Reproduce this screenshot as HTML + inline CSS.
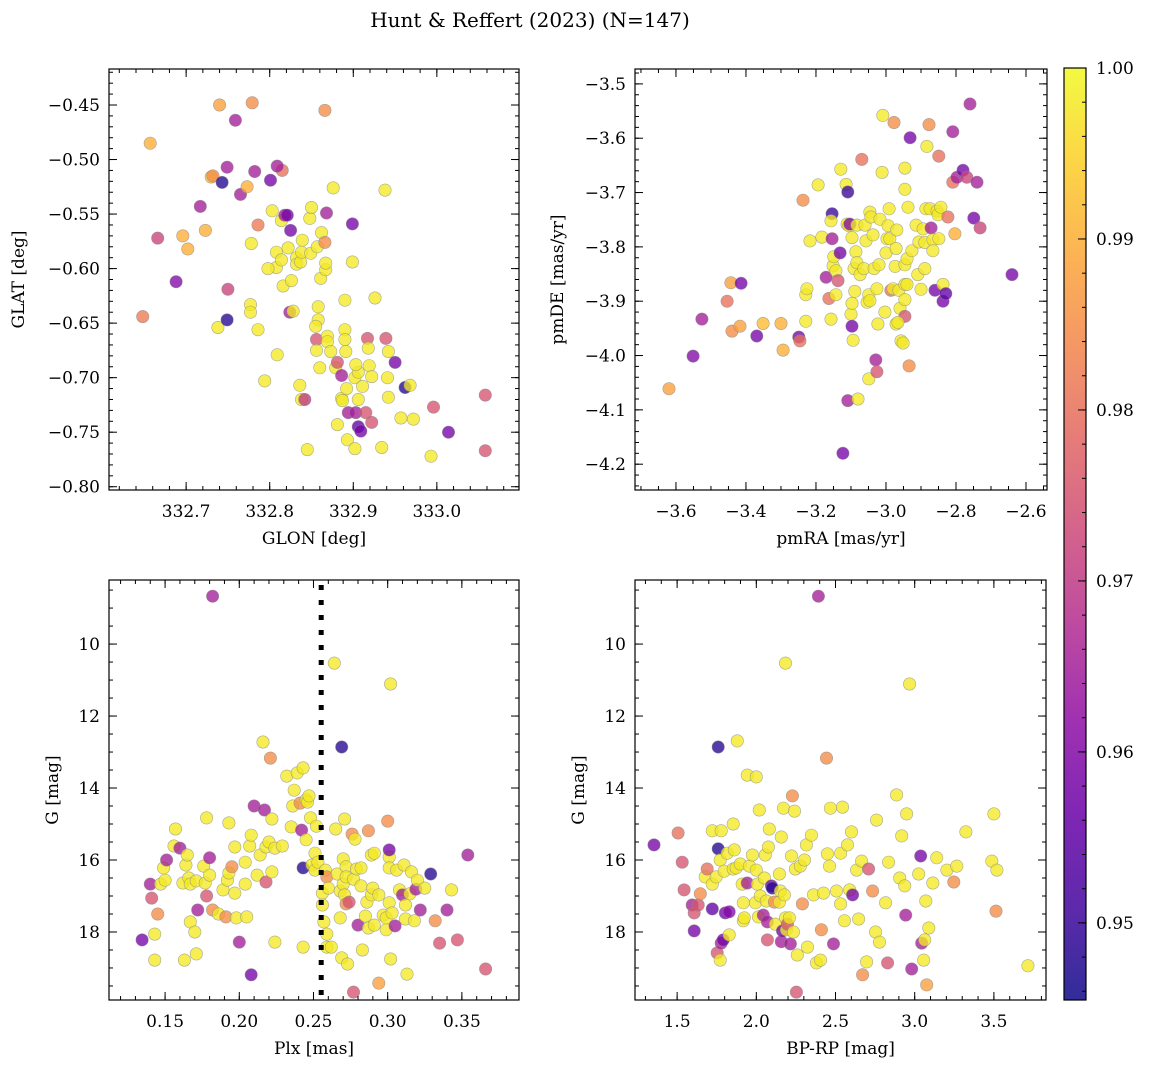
<!DOCTYPE html>
<html><head><meta charset="utf-8"><style>
html,body{margin:0;padding:0;background:#fff;}
svg{display:block;font-family:"DejaVu Serif","Liberation Serif",serif;}
</style></head><body>
<svg id="fig" width="1149" height="1068" viewBox="0 0 1149 1068" xmlns="http://www.w3.org/2000/svg">
<rect width="1149" height="1068" fill="#fff"/>
<text x="530" y="27" font-size="20" text-anchor="middle">Hunt &amp; Reffert (2023) (N=147)</text>
<defs><linearGradient id="cmap" x1="0" y1="1" x2="0" y2="0">
<stop offset="0" stop-color="#0d0887"/><stop offset="0.1" stop-color="#41049d"/><stop offset="0.2" stop-color="#6a00a8"/><stop offset="0.3" stop-color="#8f0da4"/><stop offset="0.4" stop-color="#b12a90"/><stop offset="0.5" stop-color="#cc4778"/><stop offset="0.6" stop-color="#e16462"/><stop offset="0.7" stop-color="#f2844b"/><stop offset="0.8" stop-color="#fca636"/><stop offset="0.9" stop-color="#fcce25"/><stop offset="1" stop-color="#f0f921"/>
</linearGradient></defs>
</svg>
<script>
// ---- data: panel 1 (GLON, GLAT, prob)
const p1Glon=[332.657,332.740,332.779,332.759,332.866,332.648,332.666,332.688,332.696,332.702,332.717,332.723,332.730,332.732,332.738,332.743,332.749,332.750,332.749,332.765,332.773,332.782,332.778,332.777,332.777,332.786,332.786,332.794,332.801,332.803,332.809,332.815,332.809,332.814,332.818,332.821,332.825,332.822,332.808,332.808,332.798,332.814,332.816,332.824,332.826,332.828,332.832,332.832,332.837,332.839,332.838,332.836,332.838,332.842,332.845,332.848,332.849,332.850,332.857,332.858,332.861,332.858,332.855,332.856,332.856,332.860,332.862,332.866,332.868,332.867,332.867,332.869,332.869,332.873,332.876,332.879,332.881,332.881,332.886,332.886,332.887,332.890,332.890,332.890,332.891,332.892,332.893,332.894,332.902,332.902,332.903,332.906,332.903,332.906,332.899,332.899,332.906,332.909,332.911,332.915,332.917,332.918,332.919,332.922,332.922,332.926,332.934,332.939,332.938,332.941,332.942,332.942,332.950,332.957,332.962,332.968,332.972,332.993,332.996,333.014,333.058,333.058];
const p1Glat=[-0.485,-0.450,-0.448,-0.464,-0.455,-0.644,-0.572,-0.612,-0.570,-0.582,-0.543,-0.565,-0.516,-0.515,-0.654,-0.521,-0.507,-0.619,-0.647,-0.532,-0.525,-0.511,-0.577,-0.633,-0.640,-0.560,-0.656,-0.703,-0.519,-0.547,-0.679,-0.510,-0.506,-0.556,-0.551,-0.551,-0.565,-0.581,-0.585,-0.599,-0.600,-0.592,-0.616,-0.640,-0.611,-0.639,-0.590,-0.596,-0.594,-0.574,-0.585,-0.707,-0.720,-0.720,-0.766,-0.554,-0.586,-0.544,-0.580,-0.647,-0.609,-0.635,-0.653,-0.665,-0.675,-0.691,-0.567,-0.576,-0.549,-0.601,-0.595,-0.662,-0.667,-0.676,-0.526,-0.691,-0.686,-0.743,-0.698,-0.719,-0.721,-0.629,-0.656,-0.665,-0.676,-0.710,-0.757,-0.732,-0.700,-0.765,-0.732,-0.695,-0.688,-0.720,-0.594,-0.559,-0.745,-0.749,-0.708,-0.732,-0.664,-0.673,-0.689,-0.699,-0.741,-0.627,-0.764,-0.664,-0.528,-0.700,-0.676,-0.718,-0.686,-0.737,-0.709,-0.707,-0.738,-0.772,-0.727,-0.750,-0.716,-0.767];
const p1Prob=[.99,.988,.985,.965,.985,.982,.972,.96,.99,.99,.965,.99,.993,.985,.998,.948,.965,.972,.948,.965,.99,.965,.998,.998,.998,.982,.998,.998,.958,.998,.998,.98,.965,.998,.965,.958,.958,.998,.998,.998,.998,.998,.998,.965,.998,.998,.998,.998,.998,.998,.998,.998,.998,.97,.998,.998,.998,.998,.998,.998,.998,.998,.998,.975,.998,.998,.998,.985,.965,.998,.998,.998,.998,.998,.998,.998,.975,.998,.965,.998,.998,.998,.998,.998,.998,.998,.998,.965,.998,.998,.965,.998,.998,.998,.998,.958,.955,.958,.998,.975,.975,.998,.998,.998,.975,.998,.998,.975,.998,.998,.998,.998,.958,.998,.948,.998,.998,.998,.975,.958,.975,.975];
// ---- data: panel 2 (pmRA, pmDE, prob)
const p2Pmra=[-3.620,-3.551,-3.526,-3.454,-3.440,-3.443,-3.417,-3.414,-3.369,-3.351,-3.300,-3.294,-3.249,-3.246,-3.237,-3.229,-3.229,-3.226,-3.217,-3.194,-3.183,-3.171,-3.163,-3.154,-3.157,-3.154,-3.151,-3.149,-3.143,-3.157,-3.143,-3.137,-3.131,-3.129,-3.123,-3.114,-3.111,-3.109,-3.106,-3.103,-3.097,-3.091,-3.089,-3.100,-3.097,-3.097,-3.094,-3.086,-3.083,-3.083,-3.074,-3.069,-3.063,-3.060,-3.057,-3.054,-3.049,-3.046,-3.046,-3.043,-3.037,-3.034,-3.026,-3.023,-3.020,-3.017,-3.011,-3.009,-3.003,-3.000,-2.997,-2.994,-2.991,-2.989,-2.986,-2.980,-2.977,-2.974,-2.971,-2.969,-2.963,-2.960,-2.957,-2.951,-2.946,-2.946,-2.946,-2.946,-2.946,-2.946,-2.940,-2.940,-2.937,-2.934,-2.931,-2.926,-2.914,-2.909,-2.906,-2.900,-2.894,-2.889,-2.889,-2.886,-2.883,-2.877,-2.874,-2.871,-2.866,-2.866,-2.860,-2.854,-2.849,-2.851,-2.849,-2.843,-2.837,-2.837,-2.829,-2.823,-2.809,-2.809,-2.803,-2.797,-2.780,-2.769,-2.760,-2.749,-2.740,-2.731,-2.640,-3.109,-3.080,-3.049,-3.029,-3.026,-2.971,-2.966];
const p2Pmde=[-4.061,-4.001,-3.933,-3.900,-3.955,-3.866,-3.946,-3.867,-3.964,-3.941,-3.941,-3.990,-3.966,-3.973,-3.714,-3.937,-3.888,-3.877,-3.789,-3.686,-3.782,-3.856,-3.895,-3.739,-3.752,-3.785,-3.835,-3.818,-3.844,-3.933,-3.888,-3.862,-3.811,-3.657,-4.180,-3.685,-3.758,-3.699,-3.761,-3.758,-3.783,-3.840,-3.882,-3.924,-3.946,-3.904,-3.972,-3.809,-3.829,-3.760,-3.851,-3.639,-3.840,-3.760,-3.789,-3.902,-3.888,-3.899,-3.736,-3.745,-3.778,-3.840,-3.877,-3.942,-3.833,-3.749,-3.663,-3.558,-3.920,-3.811,-3.785,-3.761,-3.730,-3.785,-3.880,-3.877,-3.571,-3.836,-3.803,-3.769,-3.880,-3.913,-3.973,-3.977,-3.655,-3.694,-3.833,-3.869,-3.897,-3.928,-3.822,-3.869,-3.727,-4.019,-3.599,-3.807,-3.760,-3.851,-3.791,-3.878,-3.767,-3.840,-3.792,-3.730,-3.615,-3.575,-3.730,-3.765,-3.787,-3.807,-3.880,-3.734,-3.633,-3.741,-3.785,-3.727,-3.900,-3.869,-3.886,-3.745,-3.681,-3.588,-3.776,-3.672,-3.659,-3.672,-3.537,-3.747,-3.681,-3.765,-3.851,-4.083,-4.080,-4.043,-4.008,-4.030,-3.942,-3.939];
const p2Prob=[.988,.96,.965,.98,.985,.988,.988,.958,.958,.992,.99,.99,.958,.98,.985,.998,.998,.998,.998,.998,.998,.965,.98,.95,.998,.965,.998,.998,.998,.998,.998,.975,.958,.998,.958,.998,.998,.95,.998,.96,.998,.998,.998,.998,.958,.998,.998,.998,.998,.998,.998,.98,.998,.998,.998,.998,.998,.998,.998,.998,.998,.998,.998,.998,.998,.998,.998,.998,.998,.998,.998,.998,.998,.998,.98,.998,.985,.998,.998,.998,.998,.998,.998,.998,.998,.998,.998,.998,.998,.975,.998,.998,.998,.985,.958,.998,.998,.998,.998,.998,.998,.998,.998,.998,.998,.985,.998,.965,.998,.998,.958,.998,.98,.998,.998,.998,.958,.998,.955,.98,.98,.965,.99,.965,.958,.972,.965,.958,.965,.972,.958,.965,.998,.998,.965,.975,.998,.998];
// ---- data: panel 3 (Plx, G, prob)
const p3Plx=[0.1345,0.140,0.141,0.145,0.143,0.143,0.147,0.150,0.149,0.151,0.156,0.157,0.160,0.163,0.162,0.164,0.165,0.166,0.167,0.167,0.170,0.172,0.171,0.171,0.176,0.177,0.178,0.178,0.180,0.182,0.180,0.182,0.186,0.189,0.191,0.192,0.193,0.193,0.195,0.197,0.197,0.198,0.200,0.204,0.204,0.205,0.207,0.208,0.208,0.210,0.212,0.214,0.216,0.217,0.218,0.218,0.220,0.222,0.221,0.222,0.224,0.224,0.229,0.232,0.235,0.236,0.237,0.239,0.241,0.242,0.243,0.243,0.243,0.245,0.245,0.246,0.247,0.248,0.249,0.251,0.251,0.252,0.253,0.256,0.256,0.257,0.258,0.259,0.259,0.259,0.260,0.262,0.264,0.265,0.266,0.268,0.268,0.269,0.269,0.270,0.270,0.271,0.271,0.272,0.272,0.272,0.273,0.274,0.276,0.277,0.277,0.278,0.279,0.280,0.282,0.282,0.283,0.285,0.286,0.287,0.287,0.289,0.289,0.290,0.291,0.291,0.294,0.294,0.297,0.299,0.299,0.300,0.301,0.301,0.301,0.301,0.302,0.302,0.303,0.305,0.306,0.308,0.310,0.311,0.312,0.312,0.313,0.315,0.316,0.318,0.319,0.320,0.322,0.325,0.329,0.332,0.335,0.340,0.343,0.347,0.354,0.366];
const p3G=[18.22,16.67,17.06,17.5,18.06,18.78,16.67,16.56,16.22,16.0,15.61,15.14,15.67,18.78,16.64,16.14,15.86,16.5,16.67,17.72,18.0,17.39,18.61,16.58,16.17,16.64,14.83,17.0,15.94,17.39,16.42,8.67,17.5,16.83,17.58,16.56,16.36,14.97,16.19,15.64,16.92,17.61,18.28,16.06,16.67,17.58,15.61,19.19,15.31,14.5,16.42,15.86,12.72,14.61,16.61,15.64,15.5,16.33,13.17,14.86,18.28,15.67,15.61,13.67,15.08,14.5,14.06,13.58,14.42,15.17,16.22,13.44,18.42,14.33,15.44,14.39,14.22,14.83,16.14,15.81,16.28,15.06,16.06,16.92,17.25,17.72,16.28,18.06,18.42,16.47,16.78,18.42,10.53,15.14,16.39,17.61,16.86,12.86,18.72,15.97,16.67,14.86,16.97,16.19,16.47,17.22,18.89,17.17,15.28,19.67,16.53,15.42,16.25,17.81,16.72,16.22,18.5,17.56,17.17,15.19,17.89,16.97,15.86,16.78,15.81,17.81,19.42,16.97,17.53,17.94,17.61,14.92,15.92,16.22,15.72,17.19,18.75,11.11,17.47,17.83,16.28,16.83,16.97,16.14,17.25,17.64,19.17,16.94,16.33,17.69,16.81,16.56,17.39,16.78,16.39,17.69,18.31,17.39,16.83,18.22,15.86,19.03];
const p3Prob=[.958,.965,.975,.985,.998,.998,.998,.998,.998,.965,.998,.998,.965,.998,.998,.998,.998,.998,.998,.998,.998,.965,.998,.998,.998,.998,.998,.975,.965,.985,.998,.965,.998,.998,.985,.998,.998,.998,.985,.998,.998,.998,.965,.998,.998,.998,.998,.958,.998,.965,.998,.998,.998,.965,.975,.998,.998,.998,.985,.998,.998,.998,.998,.998,.998,.998,.998,.998,.985,.965,.948,.998,.998,.998,.998,.998,.998,.998,.998,.998,.998,.998,.998,.998,.998,.998,.998,.998,.998,.985,.998,.998,.998,.998,.998,.998,.998,.948,.998,.998,.998,.998,.998,.998,.998,.985,.998,.975,.985,.975,.998,.998,.998,.965,.998,.998,.998,.998,.998,.985,.998,.998,.998,.998,.998,.998,.988,.998,.998,.998,.998,.985,.998,.998,.958,.998,.998,.998,.998,.965,.998,.998,.965,.998,.998,.998,.998,.998,.998,.998,.965,.998,.965,.998,.948,.985,.975,.965,.998,.975,.965,.975];
// ---- data: panel 4 (BP-RP, G, prob)
const p4Bprp=[1.354,1.506,1.532,1.544,1.595,1.608,1.608,1.633,1.646,1.722,1.753,1.778,1.772,1.759,1.791,1.677,1.690,1.722,1.722,1.943,1.747,1.772,1.778,1.797,1.804,1.816,1.829,1.829,1.854,1.854,1.861,1.873,1.880,1.899,1.911,1.918,1.918,1.924,1.943,1.956,1.975,1.994,2.0,2.0,2.006,2.013,2.019,2.025,2.044,2.051,2.057,2.063,2.070,2.070,2.076,2.082,2.095,2.101,2.114,2.120,2.146,2.146,2.152,2.158,2.158,2.165,2.171,2.177,2.184,2.190,2.196,2.209,2.215,2.222,2.228,2.234,2.241,2.247,2.253,2.259,2.278,2.291,2.304,2.316,2.323,2.348,2.361,2.380,2.405,2.411,2.424,2.449,2.462,2.468,2.487,2.506,2.532,2.532,2.544,2.557,2.576,2.589,2.601,2.608,2.633,2.646,2.665,2.671,2.696,2.709,2.734,2.753,2.759,2.778,2.816,2.829,2.835,2.886,2.905,2.918,2.937,2.943,2.949,2.968,2.981,3.025,3.038,3.044,3.057,3.063,3.070,3.076,3.089,3.114,3.139,3.203,3.247,3.266,3.323,3.487,3.519,3.513,3.5,3.715,2.392,2.184,1.759,2.443];
const p4G=[15.58,15.25,16.06,16.83,17.25,17.97,17.47,17.25,16.94,17.36,18.58,18.31,18.78,15.69,18.22,16.47,16.25,16.67,15.19,13.64,16.47,16.0,15.19,16.31,17.47,15.81,17.44,18.08,15.0,16.25,15.72,16.22,12.69,16.11,16.67,17.19,17.69,17.61,16.64,16.17,15.86,17.19,16.28,13.69,16.67,17.58,14.61,17.0,17.53,16.5,15.86,17.14,17.72,18.22,15.64,15.14,16.72,16.78,17.17,17.78,17.17,16.39,16.86,15.36,18.27,17.97,14.56,16.97,17.61,17.94,17.78,17.61,18.33,15.89,14.22,18.0,14.64,16.25,19.67,18.64,16.17,17.22,16.0,15.58,18.42,15.31,16.97,18.86,18.78,17.94,16.92,15.83,16.17,14.56,18.33,16.86,15.81,17.22,14.53,17.69,15.58,16.83,15.22,16.97,16.28,17.64,16.03,19.19,18.83,16.25,16.86,18.0,14.89,18.28,17.19,18.86,16.06,14.19,16.5,15.33,16.72,17.53,14.72,11.11,19.03,16.39,15.89,18.31,18.78,18.22,17.14,19.47,17.89,16.64,15.94,16.28,16.61,16.17,15.22,16.03,16.28,17.42,14.72,18.94,8.67,10.53,12.86,13.17];
const p4Prob=[.958,.98,.975,.975,.965,.958,.975,.975,.985,.955,.975,.965,.998,.948,.958,.998,.98,.998,.998,.998,.998,.998,.998,.998,.958,.998,.96,.998,.998,.998,.998,.998,.998,.998,.998,.998,.998,.998,.965,.998,.998,.998,.998,.998,.998,.998,.998,.998,.965,.998,.998,.998,.965,.975,.998,.998,.958,.948,.985,.998,.998,.998,.998,.998,.965,.958,.998,.998,.998,.998,.975,.998,.965,.998,.985,.998,.998,.998,.975,.998,.998,.985,.998,.998,.998,.998,.998,.998,.998,.985,.998,.998,.998,.998,.965,.998,.998,.998,.998,.998,.998,.998,.998,.958,.998,.998,.998,.985,.998,.975,.985,.998,.998,.998,.998,.975,.998,.998,.998,.998,.998,.965,.998,.998,.965,.998,.958,.965,.998,.998,.998,.988,.998,.998,.998,.998,.985,.998,.998,.998,.998,.985,.998,.998,.965,.998,.948,.985];
const cbTicks=[0.95,0.96,0.97,0.98,0.99,1.00];
const plxCut=0.2552;

const NS='http://www.w3.org/2000/svg';
const svg=document.getElementById('fig');
const VMIN=0.94549,VMAX=1.0;
const stops=[[0,'#0d0887'],[.1,'#41049d'],[.2,'#6a00a8'],[.3,'#8f0da4'],[.4,'#b12a90'],[.5,'#cc4778'],[.6,'#e16462'],[.7,'#f2844b'],[.8,'#fca636'],[.9,'#fcce25'],[1,'#f0f921']];
function hx(h){return [1,3,5].map(i=>parseInt(h.substr(i,2),16));}
function cmap(v){let t=(v-VMIN)/(VMAX-VMIN);t=Math.max(0,Math.min(1,t));
 for(let i=1;i<stops.length;i++){if(t<=stops[i][0]){const a=stops[i-1],b=stops[i];const f=(t-a[0])/(b[0]-a[0]);const A=hx(a[1]),B=hx(b[1]);return 'rgb('+A.map((c,k)=>Math.round(c+(B[k]-c)*f)).join(',')+')';}}
 return stops[stops.length-1][1];}
function mk(tag,attrs,parent){const e=document.createElementNS(NS,tag);for(const k in attrs)e.setAttribute(k,attrs[k]);(parent||svg).appendChild(e);return e;}
function fmt(v,d){return (v<0?'\u2212':'')+Math.abs(v).toFixed(d);}

function panel(o){
 const g=mk('g',{});
 
 
 const sx=v=>o.x0+(v-o.xmin)/(o.xmax-o.xmin)*(o.x1-o.x0);
 const sy=o.yinv?(v=>o.y0+(v-o.ymin)/(o.ymax-o.ymin)*(o.y1-o.y0)):(v=>o.y1-(v-o.ymin)/(o.ymax-o.ymin)*(o.y1-o.y0));
 const pg=mk('g',{},g);
 
 
 for(let i=0;i<o.xs.length;i++){
  const c=mk('circle',{cx:sx(o.xs[i]).toFixed(1),cy:sy(o.ys[i]).toFixed(1),r:6.2,fill:cmap(o.ps[i]),'fill-opacity':0.78,stroke:'#888','stroke-width':0.6,'stroke-opacity':0.7},pg);
  
  
 }
 if(o.vline!==undefined){const l=mk('line',{x1:sx(o.vline),x2:sx(o.vline),y1:o.y0+5,y2:o.y1,stroke:'#000','stroke-width':5,'stroke-dasharray':'5 10'},g);
  
  }
 const f=mk('rect',{x:o.x0,y:o.y0,width:o.x1-o.x0,height:o.y1-o.y0,fill:'none',stroke:'#000','stroke-width':1.2},g);
 
 
 const eps=1e-9;
 for(let v=Math.ceil(o.xmin/o.xmn-eps)*o.xmn;v<=o.xmax+eps;v+=o.xmn){const px=sx(v);mk('line',{x1:px,x2:px,y1:o.y1,y2:o.y1-4,stroke:'#000'},g);mk('line',{x1:px,x2:px,y1:o.y0,y2:o.y0+4,stroke:'#000'},g);}
 for(let v=Math.ceil(o.ymin/o.ymn-eps)*o.ymn;v<=o.ymax+eps;v+=o.ymn){const py=sy(v);mk('line',{x1:o.x0,x2:o.x0+4,y1:py,y2:py,stroke:'#000'},g);mk('line',{x1:o.x1,x2:o.x1-4,y1:py,y2:py,stroke:'#000'},g);}
 o.xt.forEach(v=>{const px=sx(v);mk('line',{x1:px,x2:px,y1:o.y1,y2:o.y1-8,stroke:'#000'},g);mk('line',{x1:px,x2:px,y1:o.y0,y2:o.y0+8,stroke:'#000'},g);
  const t=mk('text',{x:px,y:o.y1+27,'font-size':17,'text-anchor':'middle'},g);t.textContent=fmt(v,o.xd);
  
  });
 o.yt.forEach(v=>{const py=sy(v);mk('line',{x1:o.x0,x2:o.x0+8,y1:py,y2:py,stroke:'#000'},g);mk('line',{x1:o.x1,x2:o.x1-8,y1:py,y2:py,stroke:'#000'},g);
  const t=mk('text',{x:o.x0-9,y:py+6,'font-size':17,'text-anchor':'end'},g);t.textContent=fmt(v,o.yd);
  
  });
 const xl=mk('text',{x:(o.x0+o.x1)/2,y:o.y1+54,'font-size':17,'text-anchor':'middle'},g);xl.textContent=o.xlab;
 
 
 const yl=mk('text',{x:o.ylx,y:(o.y0+o.y1)/2,'font-size':17,'text-anchor':'middle',transform:'rotate(-90 '+o.ylx+' '+(o.y0+o.y1)/2+')'},g);yl.textContent=o.ylab;
 
 
}

panel({name:'glon-glat-panel',x0:109,x1:519,y0:69,y1:490,xmin:332.6077,xmax:333.0983,ymin:-0.803,ymax:-0.417,xs:p1Glon,ys:p1Glat,ps:p1Prob,
 xt:[332.7,332.8,332.9,333.0],xd:1,xmn:0.02,yt:[-0.45,-0.5,-0.55,-0.6,-0.65,-0.7,-0.75,-0.8],yd:2,ymn:0.01,xlab:'GLON [deg]',ylab:'GLAT [deg]',ylx:24});
panel({name:'proper-motion-panel',x0:635,x1:1047,y0:69,y1:490,xmin:-3.717,xmax:-2.54,ymin:-4.2475,ymax:-3.4726,xs:p2Pmra,ys:p2Pmde,ps:p2Prob,
 xt:[-3.6,-3.4,-3.2,-3.0,-2.8,-2.6],xd:1,xmn:0.05,yt:[-3.5,-3.6,-3.7,-3.8,-3.9,-4.0,-4.1,-4.2],yd:1,ymn:0.02,xlab:'pmRA [mas/yr]',ylab:'pmDE [mas/yr]',ylx:563});
panel({name:'parallax-cmd-panel',x0:109,x1:519,y0:580,y1:1000,xmin:0.1122,xmax:0.3885,ymin:8.22,ymax:19.89,yinv:true,xs:p3Plx,ys:p3G,ps:p3Prob,vline:plxCut,
 xt:[0.15,0.2,0.25,0.3,0.35],xd:2,xmn:0.01,yt:[10,12,14,16,18],yd:0,ymn:0.5,xlab:'Plx [mas]',ylab:'G [mag]',ylx:58});
panel({name:'color-magnitude-panel',x0:635,x1:1046,y0:580,y1:1000,xmin:1.234,xmax:3.829,ymin:8.22,ymax:19.89,yinv:true,xs:p4Bprp,ys:p4G,ps:p4Prob,
 xt:[1.5,2.0,2.5,3.0,3.5],xd:1,xmn:0.1,yt:[10,12,14,16,18],yd:0,ymn:0.5,xlab:'BP-RP [mag]',ylab:'G [mag]',ylx:584});

(function(){
 const x0=1064,x1=1086,y0=68,y1=1000;
 const g=mk('g',{});
 
 
 mk('rect',{x:x0,y:y0,width:x1-x0,height:y1-y0,fill:'url(#cmap)','fill-opacity':0.85,stroke:'#000','stroke-width':1.2},g);
 const sy=v=>y1-(v-VMIN)/(VMAX-VMIN)*(y1-y0);
 for(let v=0.946;v<=1.0001;v+=0.002){const py=sy(v);mk('line',{x1:x1,x2:x1-4,y1:py,y2:py,stroke:'#000'},g);}
 cbTicks.forEach(v=>{const py=sy(v);mk('line',{x1:x1,x2:x1-8,y1:py,y2:py,stroke:'#000'},g);
  const t=mk('text',{x:x1+10,y:py+6,'font-size':17},g);t.textContent=v.toFixed(2);
  
  });
})();
</script>
</body></html>
